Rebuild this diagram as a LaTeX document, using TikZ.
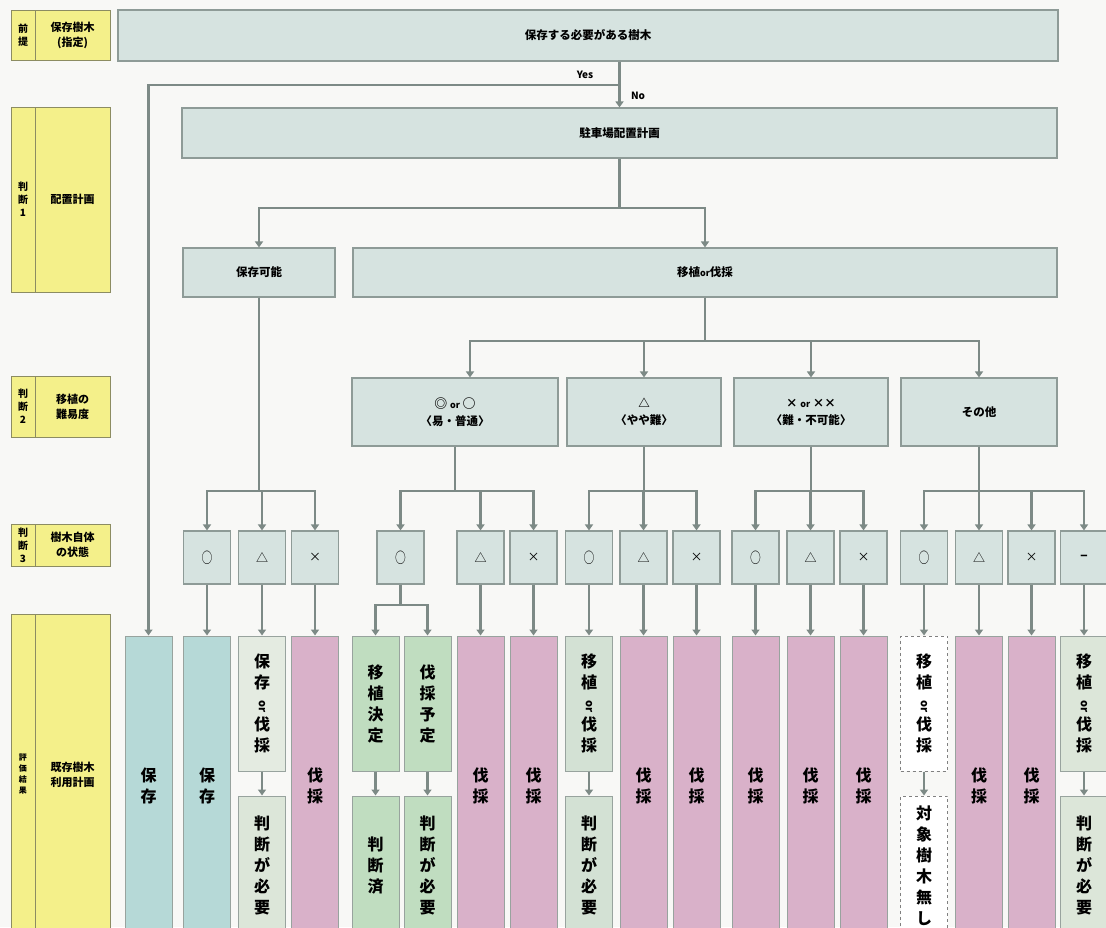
\documentclass[tikz,border=0pt]{standalone}
\usepackage{fontspec}
\setmainfont{Noto Sans CJK JP}
\usetikzlibrary{arrows.meta}
\definecolor{flowc}{HTML}{D6E3E0}
\definecolor{flowb}{HTML}{8E9B97}
\definecolor{labc}{HTML}{F4F08A}
\definecolor{labb}{HTML}{8C8C62}
\definecolor{tealc}{HTML}{B6D9D7}
\definecolor{pinkc}{HTML}{D9B1C9}
\definecolor{greenc}{HTML}{C0DDC0}
\definecolor{lgc}{HTML}{E4EBE1}
\definecolor{lgd}{HTML}{DCE6D9}
\definecolor{gcc}{HTML}{D3E1D4}
\definecolor{linec}{HTML}{7D8A86}
\definecolor{botb}{HTML}{98A39E}
\definecolor{bgc}{HTML}{F8F8F6}
\newcommand\mkbox[7][box]{%
  \pgfmathsetmacro\mbcx{(#3+#5)/2}%
  \pgfmathsetmacro\mbcy{(#4+#6)/2}%
  \pgfmathsetmacro\mbw{#5-#3}%
  \pgfmathsetmacro\mbh{#6-#4}%
  \node[#1, minimum width=\mbw pt, minimum height=\mbh pt] (#2) at (\mbcx,\mbcy) {#7};}
\newcommand\orr{\rotatebox[origin=c]{-90}{\fontsize{11}{11}\selectfont or}}
\newcommand\cir{\scalebox{0.72}[1]{\fontsize{15}{15}\selectfont ○}}
\newcommand\fullb[4]{\node[bot,#3,minimum height=299pt] (#1) at (#2,785.5) {#4};}
\newcommand\upb[4]{\node[bot,#3,minimum height=135pt] (#1) at (#2,703.5) {#4};}
\newcommand\lowb[4]{\node[bot,#3,minimum height=139pt] (#1) at (#2,865.5) {#4};}
\begin{document}
\begin{tikzpicture}[x=1pt,y=-1pt,
  box/.style={draw=flowb, line width=1.1pt, fill=flowc, inner sep=0pt, align=center,
    font=\fontsize{11.5}{17}\selectfont\bfseries},
  lab/.style={draw=labb, line width=1pt, fill=labc, inner sep=0pt, align=center,
    font=\fontsize{11}{15}\selectfont\bfseries},
  labs/.style={lab, font=\fontsize{10}{13}\selectfont\bfseries},
  lv3/.style={box, minimum width=47pt, minimum height=53pt, font=\fontsize{12}{12}\selectfont},
  bot/.style={draw=botb, line width=1pt, minimum width=47pt, inner sep=0pt, align=center,
    font=\fontsize{16}{21}\selectfont\bfseries},
  conn/.style={draw=linec, line width=2.4pt},
  arr/.style={conn, -{Triangle[width=8pt,length=6pt]}},
  dashb/.style={fill=white, dashed, draw=gray}
]
\useasboundingbox (0,0) rectangle (1106,927);
\fill[bgc] (0,0) rectangle (1106,927);
\begin{scope}
\clip (0,0) rectangle (1106,927);

% left label column
\mkbox[labs]{L0a}{11}{10}{35}{60}{前\\提}
\mkbox[lab]{L0b}{35}{10}{110}{60}{保存樹木\\(指定)}
\mkbox[labs]{L1a}{11}{107}{35}{292}{判\\断\\1}
\mkbox[lab]{L1b}{35}{107}{110}{292}{配置計画}
\mkbox[labs]{L2la}{11}{376}{35}{437}{判\\断\\2}
\mkbox[lab]{L2lb}{35}{376}{110}{437}{移植の\\難易度}
\mkbox[labs]{L3la}{11}{524}{35}{566}{判\\断\\3}
\mkbox[lab]{L3lb}{35}{524}{110}{566}{樹木自体\\の状態}
\mkbox[lab, font=\fontsize{8}{11}\selectfont\bfseries]{L4la}{11}{614}{35}{935}{評\\価\\結\\果}
\mkbox[lab]{L4lb}{35}{614}{110}{935}{既存樹木\\利用計画}

% flow boxes
\mkbox{top}{118}{10}{1058}{61}{保存する必要がある樹木}
\mkbox{park}{182}{108}{1057}{158}{駐車場配置計画}
\mkbox{kano}{183}{248}{335}{297}{保存可能}
\mkbox{move}{353}{248}{1057}{297}{移植{\fontsize{9}{9}\selectfont or}伐採}
\mkbox{L2a}{352}{378}{558}{446}{{\fontsize{13}{13}\selectfont ◎} {\fontsize{9}{9}\selectfont or} {\fontsize{13}{13}\selectfont ○}\\〈易・普通〉}
\mkbox{L2b}{567}{378}{721}{446}{△\\〈やや難〉}
\mkbox{L2c}{734}{378}{888}{446}{× {\fontsize{9}{9}\selectfont or} ××\\〈難・不可能〉}
\mkbox{L2d}{901}{378}{1057}{446}{その他}

% level 3
\foreach \n/\x/\s in {A1/207/\cir,A2/262/△,A3/315/×,B1/400.5/\cir,B2/480.5/△,B3/533.5/×,
  C1/589/\cir,C2/643.5/△,C3/696.5/×,D1/755.5/\cir,D2/810.5/△,D3/863.5/×,
  E1/924/\cir,E2/979/△,E3/1031.5/×,E4/1084/{\bfseries −}}
  \node[lv3] (\n) at (\x,557.5) {\s};

% bottom results
\fullb{b0}{148.5}{fill=tealc}{保\\存}
\fullb{bA1}{207}{fill=tealc}{保\\存}
\upb{bA2}{262}{fill=lgc}{保\\存\\\orr\\伐\\採}
\lowb{bA2l}{262}{fill=lgd}{判\\断\\が\\必\\要}
\fullb{bA3}{315}{fill=pinkc}{伐\\採}
\upb{g1}{375.5}{fill=greenc}{移\\植\\決\\定}
\lowb{g1l}{375.5}{fill=greenc}{判\\断\\済}
\upb{g2}{427.5}{fill=greenc}{伐\\採\\予\\定}
\lowb{g2l}{427.5}{fill=greenc}{判\\断\\が\\必\\要}
\fullb{bB2}{480.5}{fill=pinkc}{伐\\採}
\fullb{bB3}{533.5}{fill=pinkc}{伐\\採}
\upb{bC1}{589}{fill=gcc}{移\\植\\\orr\\伐\\採}
\lowb{bC1l}{589}{fill=gcc}{判\\断\\が\\必\\要}
\fullb{bC2}{643.5}{fill=pinkc}{伐\\採}
\fullb{bC3}{696.5}{fill=pinkc}{伐\\採}
\fullb{bD1}{755.5}{fill=pinkc}{伐\\採}
\fullb{bD2}{810.5}{fill=pinkc}{伐\\採}
\fullb{bD3}{863.5}{fill=pinkc}{伐\\採}
\upb{bE1}{924}{dashb}{移\\植\\\orr\\伐\\採}
\lowb{bE1l}{924}{dashb}{対\\象\\樹\\木\\無\\し}
\fullb{bE2}{979}{fill=pinkc}{伐\\採}
\fullb{bE3}{1031.5}{fill=pinkc}{伐\\採}
\upb{bE4}{1084}{fill=lgd}{移\\植\\\orr\\伐\\採}
\lowb{bE4l}{1084}{fill=lgd}{判\\断\\が\\必\\要}

% labels Yes / No
\node[font=\fontsize{10}{10}\selectfont\bfseries] (yes) at (585,75) {Yes};
\node[font=\fontsize{10}{10}\selectfont\bfseries] (no) at (638,96) {No};

% junction coordinates
\coordinate (yj) at (619.5,85);
\coordinate (j1) at (0,208);
\coordinate (j2) at (0,341);
\coordinate (j3) at (0,491);
\coordinate (j4) at (0,605);
\coordinate (a2in) at ([xshift=15pt]L2a.north);

% connectors
\draw[arr] (top.south -| park.north) -- (park.north);
\draw[arr] (yj) -| (b0.north);
\draw[arr] (park.south) |- (j1 -| kano) -- (kano.north);
\draw[arr] (park.south) |- (j1 -| move) -- (move.north);
\draw[arr] (move.south) |- (j2 -| a2in) -- (a2in);
\foreach \t in {L2b,L2c,L2d}
  \draw[arr] (move.south) |- (j2 -| \t) -- (\t.north);
\foreach \t in {A1,A2,A3}
  \draw[arr] (kano.south) |- (j3 -| \t) -- (\t.north);
\foreach \t in {B1,B2,B3}
  \draw[arr] (L2a.south) |- (j3 -| \t) -- (\t.north);
\foreach \t in {C1,C2,C3}
  \draw[arr] (L2b.south) |- (j3 -| \t) -- (\t.north);
\foreach \t in {D1,D2,D3}
  \draw[arr] (L2c.south) |- (j3 -| \t) -- (\t.north);
\foreach \t in {E1,E2,E3,E4}
  \draw[arr] (L2d.south) |- (j3 -| \t) -- (\t.north);
\foreach \t in {g1,g2}
  \draw[arr] (B1.south) |- (j4 -| \t) -- (\t.north);
\foreach \s/\t in {A1/bA1,A2/bA2,A3/bA3,B2/bB2,B3/bB3,C1/bC1,C2/bC2,C3/bC3,
  D1/bD1,D2/bD2,D3/bD3,E1/bE1,E2/bE2,E3/bE3,E4/bE4}
  \draw[arr] (\s.south) -- (\t.north);
\foreach \s/\t in {bA2/bA2l,g1/g1l,g2/g2l,bC1/bC1l,bE1/bE1l,bE4/bE4l}
  \draw[arr] (\s.south) -- (\t.north);
\end{scope}
\end{tikzpicture}
\end{document}
